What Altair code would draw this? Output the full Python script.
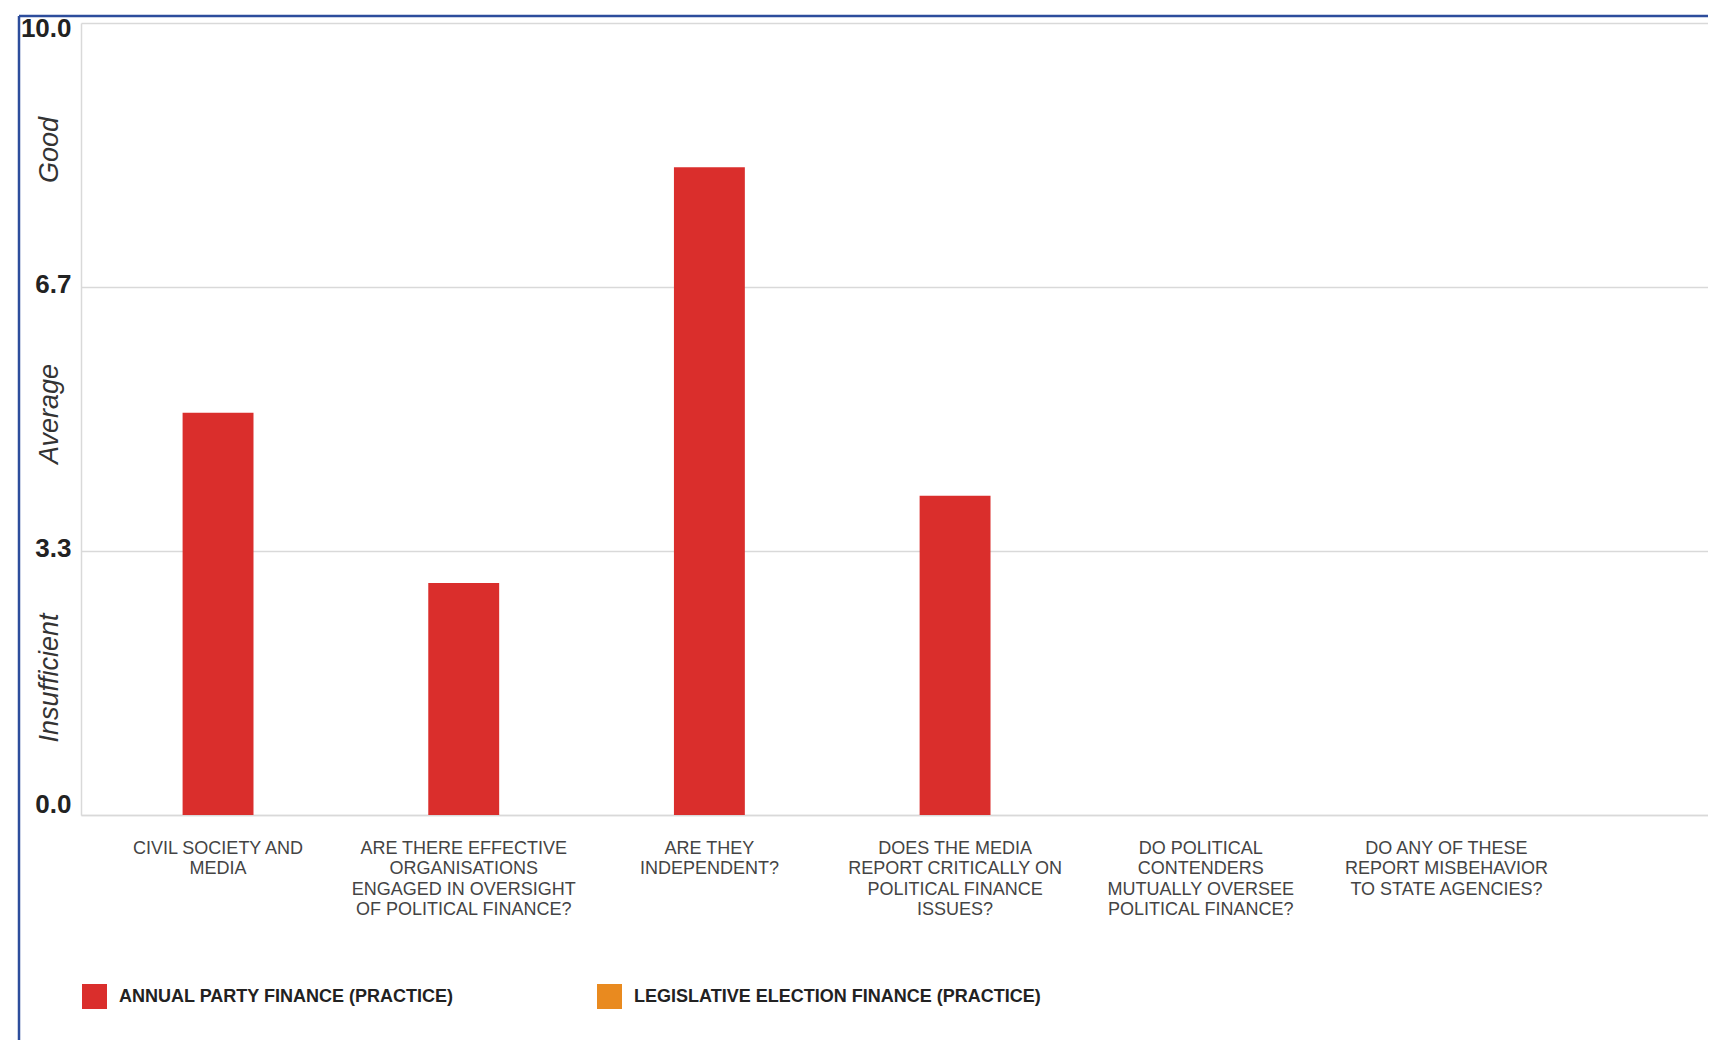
import altair as alt
import pandas as pd

# ---- data ----
categories = [
    "CIVIL SOCIETY AND\nMEDIA",
    "ARE THERE EFFECTIVE\nORGANISATIONS\nENGAGED IN OVERSIGHT\nOF POLITICAL FINANCE?",
    "ARE THEY\nINDEPENDENT?",
    "DOES THE MEDIA\nREPORT CRITICALLY ON\nPOLITICAL FINANCE\nISSUES?",
    "DO POLITICAL\nCONTENDERS\nMUTUALLY OVERSEE\nPOLITICAL FINANCE?",
    "DO ANY OF THESE\nREPORT MISBEHAVIOR\nTO STATE AGENCIES?",
]
series_names = ["ANNUAL PARTY FINANCE (PRACTICE)", "LEGISLATIVE ELECTION FINANCE (PRACTICE)"]
series_colors = ["#DA2E2C", "#E98A1F"]
annual_values = [5.08, 2.93, 8.18, 4.03, None, None]
tick_values = [0, 10 / 3, 20 / 3, 10]
band_labels = ["Insufficient", "Average", "Good"]

FONT = "Liberation Sans"

bars_df = pd.DataFrame({
    "category": categories,
    "value": annual_values,
    "series": [series_names[0]] * len(categories),
})

band_df = pd.DataFrame({
    "label": band_labels,
    "mid": [(tick_values[i] + tick_values[i + 1]) / 2 for i in range(3)],
})

W = 1627
H = 792

x_enc = alt.X(
    "category:N",
    sort=categories,
    scale=alt.Scale(paddingInner=0.7114, paddingOuter=0.667, align=0.31),
    axis=alt.Axis(
        title=None,
        labelAngle=0,
        labelFont=FONT,
        labelFontSize=18,
        labelColor="#444444",
        labelLineHeight=20.5,
        labelPadding=24,
        labelLimit=400,
        labelExpr="split(datum.label, '\\n')",
        ticks=False,
        domainColor="#d9d9d9",
        domainWidth=1.5,
        grid=False,
    ),
)

y_scale = alt.Scale(domain=[0, 10], nice=False, zero=True)

bars = alt.Chart(bars_df).mark_bar().encode(
    x=x_enc,
    y=alt.Y(
        "value:Q",
        scale=y_scale,
        axis=alt.Axis(
            title=None,
            values=tick_values,
            format=".1f",
            labelFont=FONT,
            labelFontSize=26,
            labelFontWeight="bold",
            labelColor="#222222",
            labelPadding=10,
            labelFlush=True,
            labelFlushOffset=5,
            labelOffset=-3,
            ticks=False,
            domainColor="#d9d9d9",
            domainWidth=1.5,
            grid=True,
            gridColor="#d9d9d9",
            gridWidth=1.5,
        ),
    ),
    color=alt.Color(
        "series:N",
        scale=alt.Scale(domain=series_names, range=series_colors),
        legend=alt.Legend(
            title=None,
            orient="none",
            legendX=1,
            legendY=961,
            direction="horizontal",
            symbolType="square",
            symbolSize=625,
            symbolStrokeWidth=0,
            labelFont=FONT,
            labelFontSize=18,
            labelFontWeight="bold",
            labelColor="#222222",
            labelOffset=12,
            labelLimit=600,
            columnPadding=143,
            padding=0,
        ),
    ),
)

band_text = alt.Chart(band_df).mark_text(
    angle=270,
    font=FONT,
    fontSize=27,
    fontStyle="italic",
    color="#333333",
    align="center",
    baseline="middle",
    dx=5,
).encode(
    x=alt.value(-31),
    y=alt.Y("mid:Q", scale=y_scale),
    text="label:N",
)

frame_df = pd.DataFrame({"k": [0]})
frame_top = alt.Chart(frame_df).mark_rule(color="#2D4D9C", strokeWidth=2.5).encode(
    x=alt.value(-62), x2=alt.value(W + 5), y=alt.value(-7)
)
frame_left = alt.Chart(frame_df).mark_rule(color="#2D4D9C", strokeWidth=2.5).encode(
    x=alt.value(-62), y=alt.value(-7), y2=alt.value(1030)
)

chart = alt.layer(bars, band_text, frame_top, frame_left).properties(
    width=W,
    height=H,
    autosize=alt.AutoSizeParams(type="none"),
    padding={"left": 81, "top": 23, "right": 0, "bottom": 225},
    background="white",
).configure_view(stroke=None)

chart.save("out.html", embed_options={"renderer": "svg", "actions": False})
